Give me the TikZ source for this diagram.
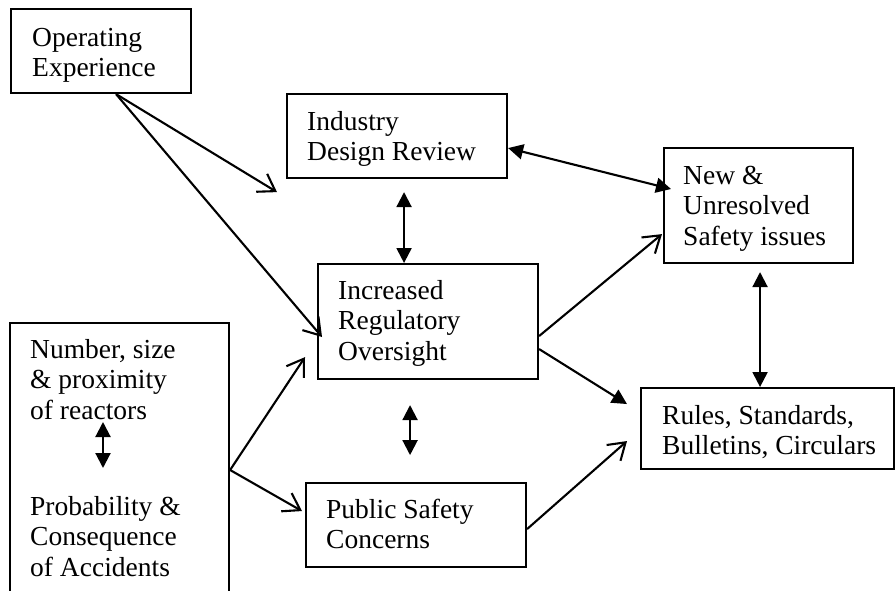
\documentclass[tikz,border=0pt]{standalone}
\usepackage{fontspec}
\setmainfont{Liberation Serif}
\usetikzlibrary{arrows.meta}
\newcommand\mystrut{\rule{0pt}{20pt}}
\begin{document}
\begin{tikzpicture}[x=1pt,y=-1pt,
  box/.style={draw, line width=2.1pt, anchor=north west, inner sep=0pt},
  txt/.style={anchor=north west, inner sep=0pt, align=left, font=\fontsize{27.5}{30.5}\selectfont},
  con/.style={line width=2.1pt},
  openarr/.style={con, -{Straight Barb[length=16pt,width=21pt]}},
  fillarr/.style={con, -{Triangle[length=15pt,width=15pt]}},
  botharr/.style={con, {Triangle[length=15pt,width=15pt]}-{Triangle[length=15pt,width=15pt]}}
]
\useasboundingbox (0,0) rectangle (896,590);

% boxes
\node[box, minimum width=180pt, minimum height=84pt] (op) at (10,8) {};
\node[box, minimum width=220pt, minimum height=84pt] (ind) at (286,93) {};
\node[box, minimum width=189pt, minimum height=115pt] (new) at (663,147) {};
\node[box, minimum width=220pt, minimum height=115pt] (inc) at (317,263) {};
\node[box, minimum width=219pt, minimum height=280pt] (num) at (9,322) {};
\node[box, minimum width=220pt, minimum height=84pt] (pub) at (305,482) {};
\node[box, minimum width=253pt, minimum height=81pt] (rul) at (640,387) {};

% texts
\node[txt] (opt) at (32,26) {\mystrut Operating\\Experience};
\node[txt] (indt) at (307,110) {\mystrut Industry\\Design Review};
\node[txt] (newt) at (683,164) {\mystrut New \&\\Unresolved\\Safety issues};
\node[txt] (inct) at (338,279) {\mystrut Increased\\Regulatory\\Oversight};
\node[txt] (pubt) at (326,498) {\mystrut Public Safety\\Concerns};
\node[txt] (rult) at (662,404) {\mystrut Rules, Standards,\\Bulletins, Circulars};
\node[txt] (numt1) at (30,338) {\mystrut Number, size\\\& proximity\\of reactors};
\node[txt] (numt2) at (30,495) {\mystrut Probability \&\\Consequence\\of Accidents};

% connectors
\coordinate (opS) at ([shift={(15,0)}]op.south);
\coordinate (numR) at ([shift={(0,148)}]num.north east);
\draw[openarr] (opS) -- ([shift={(-9,13)}]ind.south west);
\draw[openarr] (opS) -- ([shift={(5,74)}]inc.north west);
\draw[botharr] ([shift={(0,12)}]ind.east) -- ([shift={(8,42)}]new.north west);
\draw[botharr] ([shift={(7,13)}]ind.south) -- ([shift={(-24,0)}]inc.north);
\draw[openarr] ([shift={(0,14.5)}]inc.east) -- ([shift={(-1,-30)}]new.south west);
\draw[fillarr] ([shift={(0,27.5)}]inc.east) -- ([shift={(-13,-24.5)}]rul.west);
\draw[botharr] ([shift={(-18,25)}]inc.south) -- ([shift={(-18,75)}]inc.south);
\draw[openarr] ([shift={(0,4)}]pub.east) -- ([shift={(-13,12.5)}]rul.west);
\draw[openarr] (numR) -- ([shift={(-12,-23)}]inc.south west);
\draw[openarr] (numR) -- ([shift={(-3,-14)}]pub.west);
\draw[botharr] ([shift={(1.5,8)}]new.south) -- ([shift={(-7.5,0)}]rul.north);
\draw[botharr] ([shift={(94,100)}]num.north west) -- ([shift={(94,146)}]num.north west);
\end{tikzpicture}
\end{document}
